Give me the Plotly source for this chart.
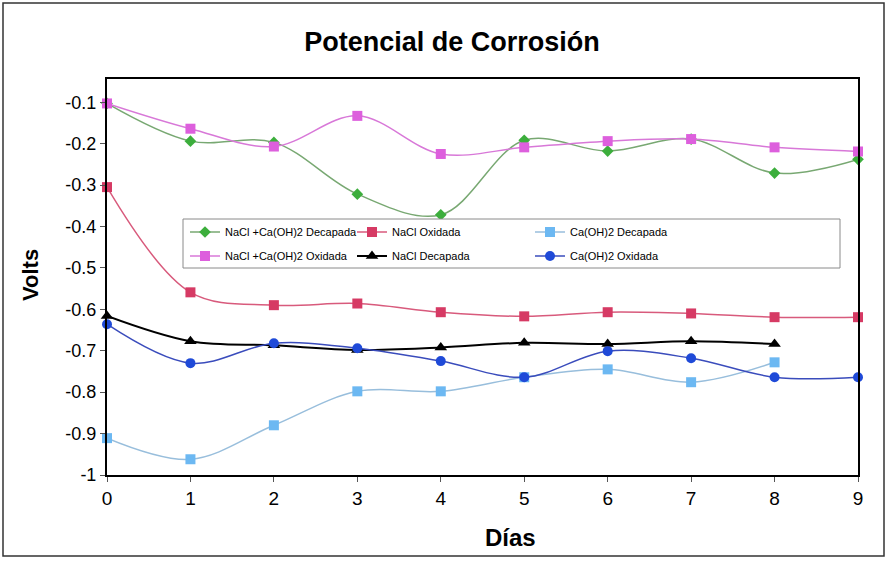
import plotly.graph_objects as go

dias = [0, 1, 2, 3, 4, 5, 6, 7, 8, 9]
dias_8 = [0, 1, 2, 3, 4, 5, 6, 7, 8]

nacl_caoh_decapada = [-0.103, -0.194, -0.197, -0.322, -0.372, -0.192, -0.218, -0.189, -0.271, -0.238]
nacl_oxidada = [-0.305, -0.559, -0.590, -0.586, -0.607, -0.617, -0.607, -0.610, -0.619, -0.619]
caoh_decapada = [-0.911, -0.962, -0.880, -0.798, -0.798, -0.764, -0.745, -0.776, -0.728]
nacl_caoh_oxidada = [-0.103, -0.164, -0.207, -0.133, -0.225, -0.209, -0.194, -0.189, -0.209, -0.219]
nacl_decapada = [-0.616, -0.677, -0.687, -0.698, -0.692, -0.681, -0.684, -0.677, -0.684]
caoh_oxidada = [-0.636, -0.730, -0.682, -0.694, -0.725, -0.764, -0.701, -0.718, -0.764, -0.764]

y_ticks = [-1, -0.9, -0.8, -0.7, -0.6, -0.5, -0.4, -0.3, -0.2, -0.1]
y_tick_text = ["-1", "-0.9", "-0.8", "-0.7", "-0.6", "-0.5", "-0.4", "-0.3", "-0.2", "-0.1"]

FONT = "Liberation Sans, Arial, sans-serif"

# plot-area pixel geometry helpers
L, R, T, B = 107, 858, 79, 475
PW, PH = R - L, B - T


def px_x(p):
    return (p - L) / PW


def px_y(p):
    return (B - p) / PH


# (name, x, y, line colour, marker colour, symbol, marker size, line width, legend id, legend text-start px, legend row centre px)
series = [
    ("NaCl +Ca(OH)2 Decapada", dias, nacl_caoh_decapada, "#78a872", "#3cae3c", "diamond", 9, 1.5, "legend", 225, 232),
    ("NaCl Oxidada", dias, nacl_oxidada, "#d85a7c", "#d63a64", "square", 10, 1.5, "legend2", 392, 232),
    ("Ca(OH)2 Decapada", dias_8, caoh_decapada, "#98bedc", "#6cb8f2", "square", 10, 1.5, "legend3", 570, 232),
    ("NaCl +Ca(OH)2 Oxidada", dias, nacl_caoh_oxidada, "#d878d8", "#dd5fdd", "square", 10, 1.5, "legend4", 225, 256),
    ("NaCl Decapada", dias_8, nacl_decapada, "#000000", "#000000", "triangle-up", 11, 2, "legend5", 392, 256),
    ("Ca(OH)2 Oxidada", dias, caoh_oxidada, "#3a4cbc", "#1f4ad8", "circle", 10, 1.5, "legend6", 570, 256),
]

fig = go.Figure()
legends = {}
for name, xs, ys, lcolor, mcolor, sym, msize, lw, lg, tx, ty in series:
    fig.add_trace(go.Scatter(
        x=xs, y=ys, name=name, mode="lines+markers", legend=lg,
        line=dict(color=lcolor, width=lw, shape="spline", smoothing=1),
        marker=dict(symbol=sym, size=msize, color=mcolor),
        cliponaxis=False,
    ))
    legends[lg] = dict(x=px_x(tx - 40), y=px_y(ty), xanchor="left", yanchor="middle",
                       bgcolor="rgba(0,0,0,0)", borderwidth=0,
                       font=dict(size=11, family=FONT, color="black"))

fig.update_layout(
    width=888, height=561,
    margin=dict(l=L, r=888 - R, t=T, b=561 - B),
    paper_bgcolor="white", plot_bgcolor="white",
    font=dict(family=FONT, color="black"),
    title=dict(text="<b>Potencial de Corrosión</b>", font=dict(size=27, family=FONT),
               x=452 / 888, xanchor="center", xref="container",
               y=1 - 42 / 561, yanchor="middle", yref="container"),
    showlegend=True,
    xaxis=dict(range=[0, 9], tickvals=dias, ticks="outside", ticklen=5, tickcolor="#555555",
               showline=True, linecolor="black", linewidth=2, mirror=True,
               showgrid=False, zeroline=False, tickfont=dict(size=19, family=FONT)),
    yaxis=dict(range=[-1.0, -0.044], tickvals=y_ticks, ticktext=y_tick_text, ticks="outside",
               ticklen=5, tickcolor="#555555",
               showline=True, linecolor="black", linewidth=2, mirror=True,
               showgrid=False, zeroline=False, tickfont=dict(size=18, family=FONT)),
    annotations=[
        dict(text="<b>Volts</b>", xref="paper", yref="paper", x=px_x(30),
             y=px_y(275), textangle=-90, showarrow=False,
             font=dict(size=22, family=FONT), xanchor="center", yanchor="middle"),
        dict(text="<b>Días</b>", xref="paper", yref="paper", x=px_x(510),
             y=px_y(537), showarrow=False,
             font=dict(size=24, family=FONT), xanchor="center", yanchor="middle"),
    ],
    shapes=[
        dict(type="rect", xref="paper", yref="paper",
             x0=px_x(3), x1=px_x(884), y0=px_y(556), y1=px_y(3),
             line=dict(color="#333333", width=1.5), fillcolor="rgba(0,0,0,0)", layer="below"),
        dict(type="rect", xref="paper", yref="paper",
             x0=px_x(183), x1=px_x(840), y0=px_y(268), y1=px_y(219),
             line=dict(color="#8a8a8a", width=1), fillcolor="white", layer="above"),
    ],
)
fig.update_layout(**legends)

fig.write_html("out.html")
